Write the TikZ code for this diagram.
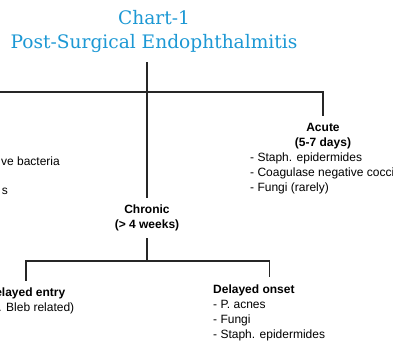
\documentclass[tikz,border=0pt]{standalone}
\usepackage{fontspec}
\setmainfont{Liberation Sans}
\newfontfamily\titlefont{DejaVu Serif}
\definecolor{titleblue}{RGB}{28,152,212}

\begin{document}
\begin{tikzpicture}[
  x=1pt, y=-1pt,
  head/.style={font=\fontsize{12}{15.5}\selectfont\bfseries, align=center,
               inner xsep=0pt, inner ysep=6.5pt},
  list/.style={font=\fontsize{12}{15}\selectfont, align=left,
               inner xsep=0pt, inner ysep=0pt},
  link/.style={line width=1.2pt, draw=black!85}
]
\useasboundingbox (0,0) rectangle (393,346);
\clip (0,0) rectangle (393,346);
\node[font=\titlefont\fontsize{18.6}{24.5}\selectfont, text=titleblue,
      align=center, inner sep=0pt] (title) at (154,31.5)
  {Chart-1\\Post-Surgical Endophthalmitis};
\node[head] (acute) at (323,136) {Acute\\(5-7 days)};
\node[list, anchor=north west] (acutelist) at (250,152.5)
  {- Staph. epidermides\\- Coagulase negative cocci\\- Fungi (rarely)};
\node[list, anchor=base east] (earlya) at (60,165.3) {ve bacteria};
\node[list, anchor=base east] (earlyb) at (8,194) {s};
\node[head] (chronic) at (147,218) {Chronic\\(\textgreater{} 4 weeks)};
\node[head] (entry) at (26,301) {Delayed entry\\\mdseries(e.g. Bleb related)};
\node[list, inner ysep=8pt, anchor=north west] (onset) at (213,276.7)
  {\textbf{Delayed onset}\\- P. acnes\\- Fungi\\- Staph. epidermides};
\coordinate (stem) at (147,62);
\coordinate (fork) at (147,92);
\coordinate (offleft) at (-5,92);
\coordinate (fork2) at (147,261);
\draw[link] (stem) -- (chronic);
\draw[link] (offleft) -- (fork) -| (acute);
\draw[link] (chronic) -- (fork2);
\draw[link] (entry) |- (fork2) -| (onset);
\end{tikzpicture}
\end{document}
